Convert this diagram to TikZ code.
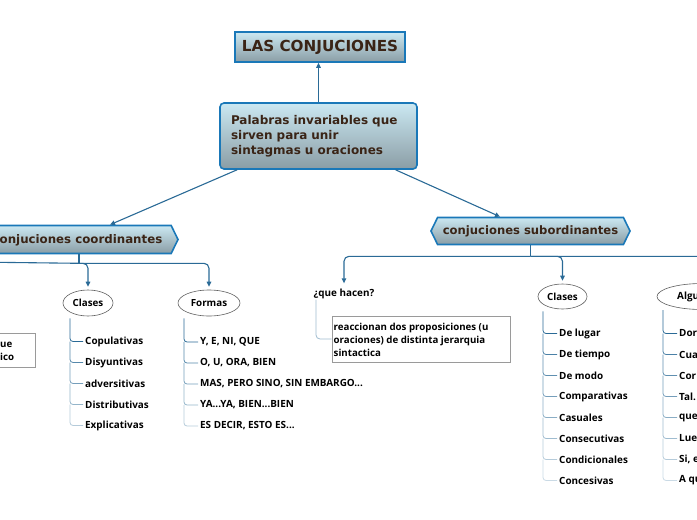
\documentclass[tikz,border=0pt]{standalone}
\usepackage{fontspec}
\setmainfont{DejaVu Sans}
\newfontfamily\itemfont{Open Sans}
\usetikzlibrary{arrows.meta,shapes.symbols,shapes.geometric,calc}
\definecolor{lnk}{HTML}{2A6A96}
\definecolor{bord}{HTML}{1A78B8}
\definecolor{topc}{HTML}{CBE8F2}
\definecolor{botc}{HTML}{8A9DA5}
\definecolor{txt}{HTML}{3A2416}
\definecolor{notec}{HTML}{9A9A9A}
\tikzset{
  link/.style={draw=lnk, line width=1.1pt},
  arr/.style={link, -{Triangle[length=5pt,width=4.5pt]}},
  mainbox/.style={draw=bord, line width=1.6pt, top color=topc, bottom color=botc, text=txt},
  oval/.style={ellipse, draw=gray!75!black, line width=0.6pt, fill=white, inner sep=0pt,
    minimum height=26pt, font=\itemfont\bfseries\fontsize{9.8}{11}\selectfont},
  itemtext/.style={anchor=west, inner xsep=2pt, inner ysep=1pt,
    font=\itemfont\bfseries\fontsize{9.9}{11}\selectfont},
  tick/.style={line width=0.8pt, rounded corners=3pt},
  note/.style={draw=notec, line width=0.8pt, fill=white, inner sep=0pt},
  notetext/.style={align=left, inner sep=0pt, anchor=west,
    font=\itemfont\bfseries\fontsize{9.7}{13}\selectfont},
  sublink/.style={draw=lnk!45!white, line width=0.8pt, rounded corners=4pt}
}
\begin{document}
\begin{tikzpicture}[x=1pt,y=-1pt]
\useasboundingbox (0,0) rectangle (697,520);
\clip (0,0) rectangle (697,520);

% top nodes
\node[mainbox, minimum width=170pt, minimum height=30pt, inner sep=0pt,
      font=\bfseries\fontsize{15.2}{18}\selectfont] (title) at (320,47) {LAS CONJUCIONES};
\node[mainbox, rounded corners=4pt, text width=175pt, inner xsep=11pt, minimum height=66pt,
      align=left, font=\bfseries\fontsize{12}{15}\selectfont] (main) at (318.5,136)
      {Palabras invariables que\\sirven para unir\\sintagmas u oraciones};
\draw[arr] (main.north) -- (main.north |- title.south);

% coordinating
\node[mainbox, signal, signal to=west and east, signal pointer angle=128,
      minimum width=198pt, minimum height=28pt, inner sep=0pt] (coord) at (79,239.5) {};
\node[anchor=west, inner sep=0pt, text=txt, font=\bfseries\fontsize{11.8}{14}\selectfont]
      (coordt) at (-0.5,240.5) {onjuciones coordinantes};
% subordinating
\node[mainbox, signal, signal to=west and east, signal pointer angle=128,
      minimum width=199pt, minimum height=27pt, inner sep=0pt,
      font=\bfseries\fontsize{11.6}{14}\selectfont] (sub) at (530.5,231) {conjuciones subordinantes};

\draw[arr] ($(main.south west)!0.09!(main.south east)$) -- ([xshift=31pt]coord.north);
\draw[arr] ($(main.south west)!0.888!(main.south east)$) -- ([xshift=-30.5pt]sub.north);

% left tree
\node[oval, minimum width=50pt] (clA) at (88,303) {Clases};
\node[oval, minimum width=62pt] (formas) at (209,303) {Formas};
\coordinate (hidL) at (-30,262);
\draw[link] (coord.south) -- ++(0,9) coordinate (cb);
\draw[link] (cb) -- (hidL);
\draw[arr, rounded corners=5pt, shorten >=3pt] (cb) -| (clA.north);
\draw[arr, rounded corners=5pt, shorten >=3pt] (cb) -| (formas.north);

% hidden-parent note at left
\node[note, minimum width=95pt, minimum height=34pt] (leftbox) at (-12.5,350) {};
\node[notetext] (leftt) at (0,351) {ue\\ico};

% right tree
\node[itemtext, anchor=center] (hacen) at (344,293.5) {¿que hacen?};
\node[oval, minimum width=49pt, minimum height=25pt] (clB) at (562.5,296.5) {Clases};
\node[oval, minimum width=90pt] (algu) at (702,296.5) {};
\node[itemtext] (algut) at (675,297) {Algu};
\draw[link] (sub.south) -- ++(0,11) coordinate (sb);
\draw[arr, rounded corners=5pt, shorten >=4pt] (sb) -| (hacen.north);
\draw[arr, rounded corners=5pt, shorten >=3pt] (sb) -| (clB.north);
\draw[arr, rounded corners=5pt, shorten >=3pt] (sb) -| (algu.north);

\node[note, minimum width=178pt, minimum height=46pt] (hacenbox) at (421,339) {};
\node[notetext] (hacent) at (333.5,340)
  {reaccionan dos proposiciones (u\\oraciones) de distinta jerarquia\\sintactica};
\draw[sublink] ([xshift=-28pt]hacen.south) |- (hacenbox.west);

% ---- lists ----
% left Clases
\foreach \t [count=\i] in {Copulativas,Disyuntivas,adversitivas,Distributivas,Explicativas}
  \node[itemtext] (ca\i) at (83,{341.5+(\i-1)*21}) {\t};
\coordinate (va) at ([xshift=-18pt,yshift=-2pt]clA.south);
\draw[tick, lnk] (va) |- (ca1.west);
\foreach \i in {2,...,5}{
  \pgfmathtruncatemacro\j{\i-1}
  \pgfmathtruncatemacro\s{95-(\i-1)*15}
  \draw[tick, lnk!\s!white] (va |- ca\j.west) |- (ca\i.west);
}
% Formas
\node[itemtext] (fo1) at (198,342) {Y, E, NI, QUE};
\node[itemtext] (fo2) at (198,363) {O, U, ORA, BIEN};
\node[itemtext] (fo3) at (198,384) {MAS, PERO SINO, SIN EMBARGO...};
\node[itemtext] (fo4) at (198,405) {YA...YA, BIEN...BIEN};
\node[itemtext] (fo5) at (198,426) {ES DECIR, ESTO ES...};
\coordinate (vf) at ([xshift=-25pt,yshift=-2pt]formas.south);
\draw[tick, lnk] (vf) |- (fo1.west);
\foreach \i in {2,...,5}{
  \pgfmathtruncatemacro\j{\i-1}
  \pgfmathtruncatemacro\s{95-(\i-1)*15}
  \draw[tick, lnk!\s!white] (vf |- fo\j.west) |- (fo\i.west);
}
% sub Clases
\foreach \t [count=\i] in {De lugar,De tiempo,De modo,Comparativas,Casuales,Consecutivas,Condicionales,Concesivas}
  \node[itemtext] (cb\i) at (557,{333.5+(\i-1)*21}) {\t};
\coordinate (vb) at ([xshift=-19.5pt,yshift=-2pt]clB.south);
\draw[tick, lnk] (vb) |- (cb1.west);
\foreach \i in {2,...,8}{
  \pgfmathtruncatemacro\j{\i-1}
  \pgfmathtruncatemacro\s{95-(\i-1)*10}
  \draw[tick, lnk!\s!white] (vb |- cb\j.west) |- (cb\i.west);
}
% Algu list
\foreach \t [count=\i] in {Dor,Cua,Cor,Tal.,que,Lue,{Si, e},A qu}
  \node[itemtext] (al\i) at (677,{333.5+(\i-1)*21}) {\t};
\coordinate (vl) at (663,310);
\draw[tick, lnk] (vl) |- (al1.west);
\foreach \i in {2,...,8}{
  \pgfmathtruncatemacro\j{\i-1}
  \pgfmathtruncatemacro\s{95-(\i-1)*10}
  \draw[tick, lnk!\s!white] (vl |- al\j.west) |- (al\i.west);
}
\end{tikzpicture}
\end{document}
